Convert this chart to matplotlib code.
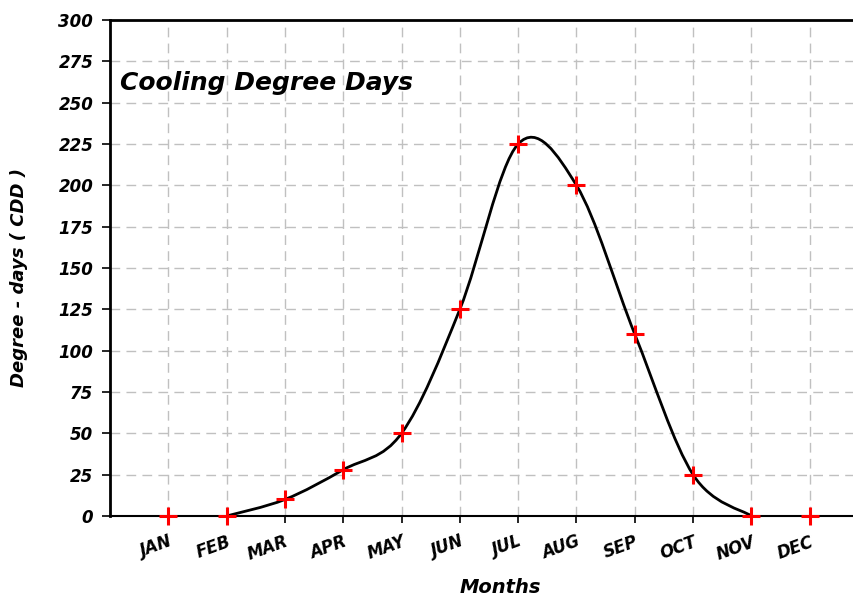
import numpy as np
import matplotlib
matplotlib.use("Agg")
import matplotlib.pyplot as plt
from matplotlib.path import Path
from matplotlib.patches import PathPatch

# ------------------------------------------------------------
# Data
# ------------------------------------------------------------

months = ["JAN", "FEB", "MAR", "APR", "MAY", "JUN",
          "JUL", "AUG", "SEP", "OCT", "NOV", "DEC"]
cdd = [0, 0, 10, 28, 50, 125, 225, 200, 110, 25, 0, 0]

# smooth curve is only drawn from FEB to NOV
curve_first = 1
curve_last = 10

y_ticks = list(range(0, 301, 25))

plt.rcParams["font.family"] = ["DejaVu Sans"]


def smooth_path(xs, ys):
    # Catmull-Rom style bezier segments, like a spreadsheet "smoothed line"
    verts = [(xs[0], ys[0])]
    codes = [Path.MOVETO]
    n = len(xs)
    for i in range(n - 1):
        x0, y0 = xs[max(i - 1, 0)], ys[max(i - 1, 0)]
        x1, y1 = xs[i], ys[i]
        x2, y2 = xs[i + 1], ys[i + 1]
        x3, y3 = xs[min(i + 2, n - 1)], ys[min(i + 2, n - 1)]
        c1 = (x1 + (x2 - x0) / 6.0, y1 + (y2 - y0) / 6.0)
        c2 = (x2 - (x3 - x1) / 6.0, y2 - (y3 - y1) / 6.0)
        verts += [c1, c2, (x2, y2)]
        codes += [Path.CURVE4, Path.CURVE4, Path.CURVE4]
    return Path(verts, codes)


fig = plt.figure(figsize=(8.54, 5.98), dpi=100)
ax = fig.add_axes([110 / 854, (598 - 516) / 598, 758 / 854, 496 / 598])

x = np.arange(1, len(months) + 1)

ax.set_xlim(0, 13)
ax.set_ylim(0, 300)

ax.grid(True, color="#c0c0c0", linestyle=(0, (7, 4.5)), linewidth=1.0)
ax.set_axisbelow(True)

xs = list(x[curve_first:curve_last + 1])
ys = cdd[curve_first:curve_last + 1]
ax.add_patch(PathPatch(smooth_path(xs, ys), facecolor="none",
                       edgecolor="black", linewidth=2.0, zorder=3))

ax.plot(x, cdd, linestyle="none", marker="+", markersize=13,
        markeredgewidth=2.2, color="red", zorder=4, clip_on=False)

ax.spines["right"].set_visible(False)
ax.spines["left"].set_linewidth(2.0)
ax.spines["top"].set_linewidth(2.0)
ax.spines["bottom"].set_linewidth(1.5)

ax.set_xticks(x)
ax.set_xticklabels(months, rotation=20, ha="right", va="top",
                   rotation_mode="anchor", fontsize=12,
                   fontweight="bold", fontstyle="italic")
ax.set_yticks(y_ticks)
ax.set_yticklabels([str(v) for v in y_ticks], fontsize=12,
                   fontweight="bold", fontstyle="italic")
ax.tick_params(axis="x", length=5, width=1.2, pad=7)
ax.tick_params(axis="y", length=6, width=1.2, pad=6)

ax.set_xlabel("Months", fontsize=14, fontweight="bold",
              fontstyle="italic")
ax.xaxis.set_label_coords(390 / 758, -62 / 496)
ax.set_ylabel("Degree - days ( CDD )", fontsize=13, fontweight="bold",
              fontstyle="italic")
ax.yaxis.set_label_coords(-82 / 758, 0.48)

ax.text(0.17, 262, "Cooling Degree Days", fontsize=18, fontweight="bold",
        fontstyle="italic", ha="left", va="center")

fig.savefig("out.png", dpi=100)
